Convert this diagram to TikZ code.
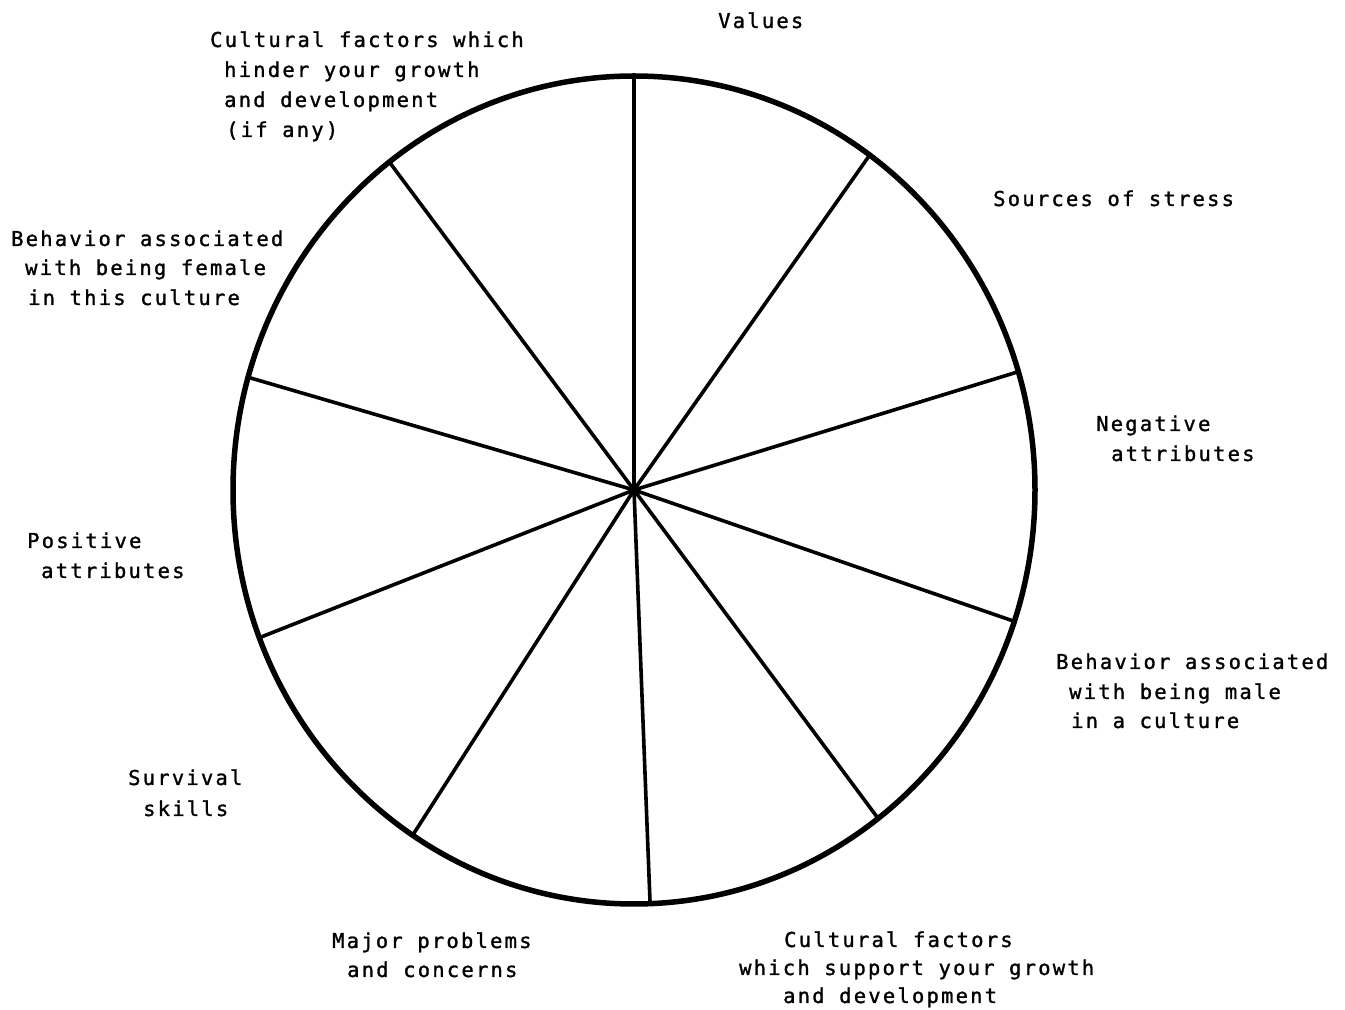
\documentclass[tikz,border=0pt]{standalone}
\usepackage{fontspec}
\usetikzlibrary{calc}
\newfontfamily\twfont[LetterSpace=10.8,FakeBold=1.3]{DejaVu Sans Mono}
\begin{document}
\begin{tikzpicture}[x=1pt,y=1pt,
  lbl/.style={anchor=base west,inner sep=0pt,font=\twfont\fontsize{20.5}{30}\selectfont},
  rim/.style={line width=5.5pt},
  spoke/.style={line width=3.6pt}]
\useasboundingbox (0,0) rectangle (1345,1010);
\fill[white] (0,0) rectangle (1345,1010);
\coordinate (c) at (634,520);
\foreach \a [count=\i] in {90,54.0,16.6,-18.5,-52.5,-87.7,-123.5,200.9,164.2,127.6}
  \coordinate (s\i) at ($(c)+(\a:401pt and 414pt)$);
\draw[rim] (c) ellipse [x radius=401pt, y radius=414pt];
\foreach \i in {1,...,10} \draw[spoke] (c) -- (s\i);
\fill (c) circle (5.5pt);
% labels
\node[lbl] (a1) at (718,982) {Values};
\node[lbl] (b1) at (210,963) {Cultural factors which};
\node[lbl] (b2) at (224,933) {hinder your growth};
\node[lbl] (b3) at (224,903) {and development};
\node[lbl] (b4) at (226,873) {(if any)};
\node[lbl] (c1) at (993,804) {Sources of stress};
\node[lbl] (d1) at (11,764) {Behavior associated};
\node[lbl] (d2) at (25,735) {with being female};
\node[lbl] (d3) at (28,705) {in this culture};
\node[lbl] (e1) at (1096,579) {Negative};
\node[lbl] (e2) at (1111,549) {attributes};
\node[lbl] (f1) at (27,462) {Positive};
\node[lbl] (f2) at (41,432) {attributes};
\node[lbl] (g1) at (1056,341) {Behavior associated};
\node[lbl] (g2) at (1069,311) {with being male};
\node[lbl] (g3) at (1071,282) {in a culture};
\node[lbl] (h1) at (128,225) {Survival};
\node[lbl] (h2) at (143,194) {skills};
\node[lbl] (i1) at (332,62) {Major problems};
\node[lbl] (i2) at (347,33) {and concerns};
\node[lbl] (j1) at (784,63) {Cultural factors};
\node[lbl] (j2) at (739,35) {which support your growth};
\node[lbl] (j3) at (783,7) {and development};
\end{tikzpicture}
\end{document}
